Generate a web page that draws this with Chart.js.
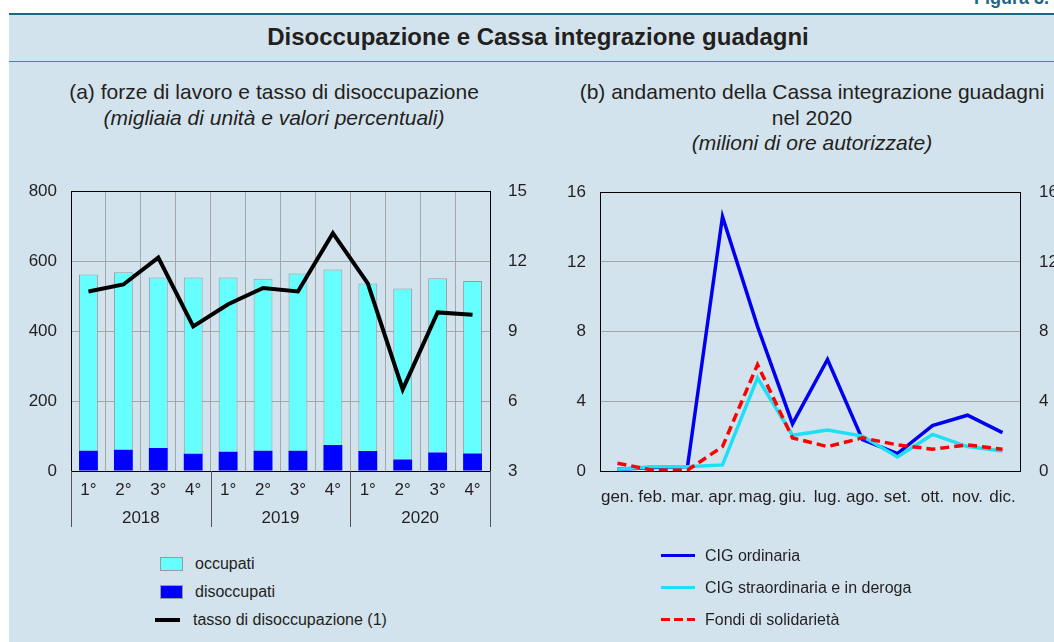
<!DOCTYPE html>
<html>
<head>
<meta charset="utf-8">
<script src="https://cdn.jsdelivr.net/npm/chart.js@4/dist/chart.umd.min.js"></script>
<style>
  html, body { margin: 0; padding: 0; background: #fff; }
  body { width: 1054px; height: 642px; position: relative; overflow: hidden; font-family: "Liberation Sans", Arial, sans-serif; color: #231f20; }
  .fig { position: absolute; right: 5px; top: -12px; font-weight: bold; font-size: 18px; color: #1d6787; }
  .panel { position: absolute; left: 9px; top: 13px; width: 1060px; height: 640px; background: #d3e3ed; border-top: 2px solid #1d6787; }
  .band { position: absolute; left: 9px; top: 61px; width: 1060px; height: 1px; background: #4d83a3; }
  .title { position: absolute; left: 9px; width: 1060px; top: 23px; text-align: center; font-weight: bold; font-size: 24px; }
  .title span { position: relative; left: -1px; }
  .sub { position: absolute; text-align: center; font-size: 21px; line-height: 25.5px; }
  .sub i { font-style: italic; }
  .box { position: absolute; top: 163px; height: 377px; }
  .leg { position: absolute; font-size: 16px; line-height: 16px; }
  .sw { position: absolute; }
</style>
</head>
<body>
<div class="fig">Figura 3.</div>
<div class="panel"></div>
<div class="band"></div>
<div class="title"><span>Disoccupazione e Cassa integrazione guadagni</span></div>

<div class="sub" style="left:24px; width:500px; top:79px;">(a) forze di lavoro e tasso di disoccupazione<br><i>(migliaia di unità e valori percentuali)</i></div>
<div class="sub" style="left:562px; width:500px; top:79px;">(b) andamento della Cassa integrazione guadagni<br>nel 2020<br><i>(milioni di ore autorizzate)</i></div>

<div class="box" style="left:0; width:540px;"><canvas id="left"></canvas></div>
<div class="box" style="left:530px; width:524px;"><canvas id="right"></canvas></div>

<div class="sw" style="left:160px; top:557px; width:21px; height:12px; background:#66ffff; border:1px solid #9a9a9a;"></div>
<div class="leg" style="left:195px; top:556px;">occupati</div>
<div class="sw" style="left:160px; top:585px; width:21px; height:12px; background:#0000ff; border:1px solid #9a9a9a;"></div>
<div class="leg" style="left:195px; top:584px;">disoccupati</div>
<div class="sw" style="left:155px; top:618px; width:25px; height:4px; background:#000;"></div>
<div class="leg" style="left:193px; top:612px;">tasso di disoccupazione (1)</div>

<div class="sw" style="left:661px; top:554px; width:34px; height:3px; background:#0000ee;"></div>
<div class="leg" style="left:705px; top:548px;">CIG ordinaria</div>
<div class="sw" style="left:661px; top:586px; width:34px; height:3px; background:#1de0f5;"></div>
<div class="leg" style="left:705px; top:580px;">CIG straordinaria e in deroga</div>
<div class="sw" style="left:661px; top:618px; width:34px; height:3px; background:repeating-linear-gradient(90deg,#ff0000 0 9px,transparent 9px 13px);"></div>
<div class="leg" style="left:705px; top:612px;">Fondi di solidarietà</div>

<script>
const quarters = ['1°', '2°', '3°', '4°', '1°', '2°', '3°', '4°', '1°', '2°', '3°', '4°'];
const years = ['2018', '2019', '2020'];
const occupati = [504, 507, 487, 504, 498, 492, 507, 502, 479, 489, 498, 493];
const disoccupati = [58, 61, 66, 49, 55, 58, 58, 74, 57, 33, 53, 50];
const tasso = [10.7, 11.0, 12.15, 9.2, 10.15, 10.85, 10.7, 13.2, 11.05, 6.5, 9.8, 9.7];

const months = ['gen.', 'feb.', 'mar.', 'apr.', 'mag.', 'giu.', 'lug.', 'ago.', 'set.', 'ott.', 'nov.', 'dic.'];
const cigOrdinaria = [0.1, 0.2, 0.25, 14.6, 8.3, 2.7, 6.4, 1.8, 1.0, 2.6, 3.2, 2.2];
const cigStraordinaria = [0.1, 0.25, 0.25, 0.35, 5.35, 2.05, 2.35, 2.0, 0.8, 2.1, 1.4, 1.15];
const fondiSolidarieta = [0.45, 0.05, 0.05, 1.4, 6.1, 1.9, 1.4, 1.9, 1.5, 1.25, 1.5, 1.25];

const FONT = { family: '"Liberation Sans", Arial, sans-serif', size: 17 };
const TXT = '#231f20';

// black frame around the plot area
const frame = {
  id: 'frame',
  afterDraw(chart) {
    const { ctx, chartArea: a } = chart;
    ctx.save();
    ctx.strokeStyle = '#000';
    ctx.lineWidth = 1;
    ctx.strokeRect(Math.round(a.left) + 0.5, Math.round(a.top) + 0.5, Math.round(a.right - a.left), Math.round(a.bottom - a.top));
    ctx.restore();
  }
};

// year row under the quarters, with separators
const yearRow = {
  id: 'yearRow',
  afterDraw(chart) {
    const { ctx, chartArea: a } = chart;
    const x = chart.scales.x;
    const per = quarters.length / years.length;
    ctx.save();
    ctx.strokeStyle = '#555';
    ctx.lineWidth = 1;
    ctx.fillStyle = TXT;
    ctx.font = '17px ' + FONT.family;
    ctx.textAlign = 'center';
    ctx.textBaseline = 'middle';
    for (let i = 0; i <= years.length; i++) {
      let px;
      if (i === 0) px = a.left;
      else if (i === years.length) px = a.right;
      else px = (x.getPixelForValue(i * per - 1) + x.getPixelForValue(i * per)) / 2;
      px = Math.round(px) + 0.5;
      ctx.beginPath();
      ctx.moveTo(px, a.bottom);
      ctx.lineTo(px, a.bottom + 56);
      ctx.stroke();
    }
    years.forEach((y, i) => {
      const c = (x.getPixelForValue(i * per) + x.getPixelForValue(i * per + per - 1)) / 2;
      ctx.fillText(y, c, a.bottom + 47);
    });
    ctx.restore();
  }
};

new Chart(document.getElementById('left'), {
  type: 'bar',
  data: {
    labels: quarters,
    datasets: [
      {
        type: 'line',
        label: 'tasso di disoccupazione (1)',
        data: tasso,
        yAxisID: 'y1',
        borderColor: '#000',
        borderWidth: 4,
        pointRadius: 0,
        tension: 0,
        order: 0,
      },
      {
        label: 'disoccupati',
        data: disoccupati,
        backgroundColor: '#0000ff',
        borderColor: '#0000ff',
        borderWidth: 0,
        yAxisID: 'y',
        order: 1,
      },
      {
        label: 'occupati',
        data: occupati,
        backgroundColor: '#66ffff',
        borderColor: '#9a9a9a',
        borderWidth: 1,
        yAxisID: 'y',
        order: 1,
      },
    ],
  },
  options: {
    animation: false,
    responsive: true,
    maintainAspectRatio: false,
    layout: { padding: { top: 13, left: 0, right: 0, bottom: 0 } },
    datasets: { bar: { categoryPercentage: 1, barPercentage: 0.54 } },
    plugins: { legend: { display: false }, tooltip: { enabled: false } },
    scales: {
      x: {
        stacked: true,
        offset: true,
        grid: { offset: true, color: '#a6a6a6', drawTicks: false },
        border: { color: '#000' },
        ticks: { color: TXT, font: FONT, padding: 9, autoSkip: false, maxRotation: 0, minRotation: 0 },
        afterFit: s => { s.height = 69; },
      },
      y: {
        stacked: true,
        min: 0,
        max: 800,
        position: 'left',
        ticks: { stepSize: 200, color: TXT, font: FONT, padding: 14 },
        grid: { color: '#a6a6a6', drawTicks: false },
        border: { color: '#000' },
        afterFit: s => { s.width = 71; },
      },
      y1: {
        min: 3,
        max: 15,
        position: 'right',
        ticks: { stepSize: 3, color: TXT, font: FONT, padding: 18 },
        grid: { drawOnChartArea: false, drawTicks: false },
        border: { color: '#000' },
        afterFit: s => { s.width = 50; },
      },
    },
  },
  plugins: [frame, yearRow],
});

new Chart(document.getElementById('right'), {
  type: 'line',
  data: {
    labels: months,
    datasets: [
      {
        label: 'CIG ordinaria',
        data: cigOrdinaria,
        borderColor: '#0000ee',
        borderWidth: 3.5,
        order: 3,
      },
      {
        label: 'CIG straordinaria e in deroga',
        data: cigStraordinaria,
        borderColor: '#1de0f5',
        borderWidth: 3.5,
        order: 2,
      },
      {
        label: 'Fondi di solidarietà',
        data: fondiSolidarieta,
        borderColor: '#ff0000',
        borderWidth: 3.5,
        borderDash: [9, 5],
        order: 1,
      },
    ],
  },
  options: {
    animation: false,
    responsive: true,
    maintainAspectRatio: false,
    layout: { padding: { top: 13, left: 0, right: 0, bottom: 0 } },
    elements: { point: { radius: 0 }, line: { tension: 0 } },
    plugins: { legend: { display: false }, tooltip: { enabled: false } },
    scales: {
      x: {
        offset: true,
        grid: { display: false },
        border: { color: '#000' },
        ticks: { color: TXT, font: FONT, padding: 8, autoSkip: false, maxRotation: 0, minRotation: 0 },
        afterFit: s => { s.height = 69; },
      },
      y: {
        min: 0,
        max: 16,
        position: 'left',
        ticks: { stepSize: 4, color: TXT, font: FONT, padding: 14 },
        grid: { color: '#a6a6a6', drawTicks: false },
        border: { color: '#000' },
        afterFit: s => { s.width = 70; },
      },
      y1: {
        min: 0,
        max: 16,
        position: 'right',
        ticks: { stepSize: 4, color: TXT, font: FONT, padding: 19 },
        grid: { drawOnChartArea: false, drawTicks: false },
        border: { color: '#000' },
        afterFit: s => { s.width = 34; },
      },
    },
  },
  plugins: [frame],
});
</script>
</body>
</html>
